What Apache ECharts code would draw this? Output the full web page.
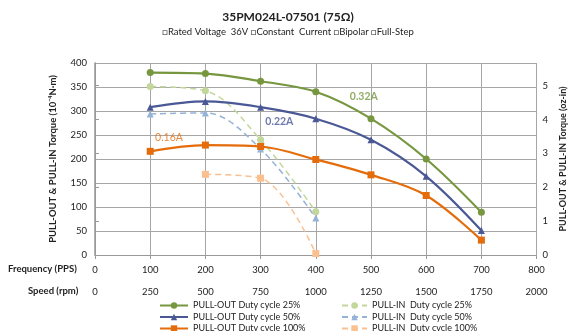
<!DOCTYPE html>
<html><head><meta charset="utf-8">
<script src="https://cdn.jsdelivr.net/npm/echarts@6/dist/echarts.min.js"></script>
<style>html,body{margin:0;padding:0;background:#fff}#c{width:576px;height:331px}</style>
</head><body><div id="c"></div>
<script>
const freq = [100, 200, 300, 400, 500, 600, 700];
const pullOut25 = [380, 378, 362, 340, 284, 200, 89];
const pullOut50 = [308, 320, 308, 284, 240, 164, 51];
const pullOut100 = [216, 229, 226, 199, 167, 124, 31];
const pullInFreq25 = [100, 200, 300, 400];
const pullIn25 = [351, 342, 240, 90];
const pullIn50 = [294, 296, 221, 77];
const pullInFreq100 = [200, 300, 400];
const pullIn100 = [168, 160, 3];
const ozTicks = [0, 1, 2, 3, 4, 5];
const currentLabels = ['0.32A', '0.22A', '0.16A'];
const currentLabelPos = [[487, 330], [334, 278], [134, 245]];
const NM_PER_OZIN = 70.6;

const F = 'Lato, "Open Sans", sans-serif';
const pair = (xs, ys) => xs.map((x, i) => [x, ys[i]]);
const C = {g:'#76973f', lg:'#c3d69b', b:'#4a5896', lb:'#95b3d7', o:'#e46c0a', lo:'#fac090'};

function solid(name, xs, ys, color, sym, size) {
  return {name, type:'line', smooth:0.35, data:pair(xs, ys), color,
    symbol:sym, symbolSize:size, lineStyle:{width:2.2, color}, itemStyle:{color}};
}
function dashed(name, xs, ys, color, sym, size) {
  return {name, type:'line', smooth:0.35, data:pair(xs, ys), color,
    symbol:sym, symbolSize:size, lineStyle:{width:1.5, color, type:[6,4]}, itemStyle:{color}};
}
const labelColors = [C.g, C.b, C.o];
const labelWeights = ['bold', 'bold', 'normal'];

const chart = echarts.init(document.getElementById('c'));
chart.setOption({
  animation:false,
  textStyle:{fontFamily:F},
  title:{text:'35PM024L-07501 (75Ω)', subtext:'□Rated Voltage  36V □Constant  Current □Bipolar □Full-Step',
    left:'center', top:6, itemGap:4,
    textStyle:{fontSize:12, fontWeight:'bold', color:'#222', fontFamily:F},
    subtextStyle:{fontSize:9.5, color:'#222', fontFamily:F}},
  grid:{left:95, right:38, top:63, bottom:76},
  xAxis:[
    {type:'value', min:0, max:800, interval:100, position:'bottom',
     axisLine:{show:true, lineStyle:{color:'#999'}}, axisTick:{show:true, length:4, lineStyle:{color:'#999'}},
     axisLabel:{fontSize:9.5, color:'#222', margin:10},
     splitLine:{show:true, lineStyle:{color:'#a6a6a6', width:1}}},
    {type:'value', min:0, max:2000, interval:250, position:'bottom', offset:22,
     axisLine:{show:false}, axisTick:{show:false},
     axisLabel:{fontSize:9.5, color:'#222', margin:10, formatter:v => String(v)}, splitLine:{show:false}}
  ],
  yAxis:[
    {type:'value', min:0, max:400, interval:50, name:'PULL-OUT & PULL-IN Torque (10⁻⁴N·m)',
     nameLocation:'middle', nameGap:37, nameTextStyle:{fontSize:9.5, fontWeight:'bold', color:'#222'},
     axisLine:{show:true, lineStyle:{color:'#999'}}, axisTick:{show:false},
     axisLabel:{fontSize:9.5, color:'#222', margin:8},
     splitLine:{show:true, lineStyle:{color:'#a6a6a6', width:1}}},
    {type:'value', min:0, max:400/NM_PER_OZIN, interval:1, position:'right',
     name:'PULL-OUT & PULL-IN Torque (oz-in)', nameLocation:'middle', nameGap:22,
     nameTextStyle:{fontSize:9, fontWeight:'bold', color:'#222'},
     axisLine:{show:true, lineStyle:{color:'#999', width:1.5}},
     axisTick:{show:true, length:4, lineStyle:{color:'#999'}, customValues:ozTicks},
     axisLabel:{fontSize:9.5, color:'#222', margin:6, customValues:ozTicks},
     splitLine:{show:false}}
  ],
  legend:[
    {orient:'vertical', left:154, top:296, height:60, itemGap:2.5, itemWidth:28, itemHeight:8,
     textStyle:{fontSize:9, color:'#222'},
     data:['PULL-OUT Duty cycle 25%','PULL-OUT Duty cycle 50%','PULL-OUT Duty cycle 100%']},
    {orient:'vertical', left:336, top:296, height:60, itemGap:2.5, itemWidth:25, itemHeight:8,
     textStyle:{fontSize:9, color:'#222'},
     data:['PULL-IN  Duty cycle 25%','PULL-IN  Duty cycle 50%','PULL-IN  Duty cycle 100%']}
  ],
  graphic:[
    {type:'text', left:8, top:264, style:{text:'Frequency (PPS)', font:'bold 9.5px '+F, fill:'#222'}},
    {type:'text', left:28, top:286, style:{text:'Speed (rpm)', font:'bold 9.5px '+F, fill:'#222'}}
  ],
  series:[
    solid('PULL-OUT Duty cycle 25%', freq, pullOut25, C.g, 'circle', 7),
    dashed('PULL-IN  Duty cycle 25%', pullInFreq25, pullIn25, C.lg, 'circle', 7),
    solid('PULL-OUT Duty cycle 50%', freq, pullOut50, C.b, 'triangle', 7),
    dashed('PULL-IN  Duty cycle 50%', pullInFreq25, pullIn50, C.lb, 'triangle', 7),
    solid('PULL-OUT Duty cycle 100%', freq, pullOut100, C.o, 'rect', 7),
    dashed('PULL-IN  Duty cycle 100%', pullInFreq100, pullIn100, C.lo, 'rect', 7),
    {type:'scatter', symbolSize:1, silent:true, z:10, itemStyle:{color:'rgba(0,0,0,0)'},
     data:currentLabels.map((t, i) => ({value:currentLabelPos[i],
       label:{show:true, position:'inside', formatter:t, color:labelColors[i], fontWeight:labelWeights[i], fontSize:10.5, fontFamily:F}}))}
  ]
});
</script></body></html>
